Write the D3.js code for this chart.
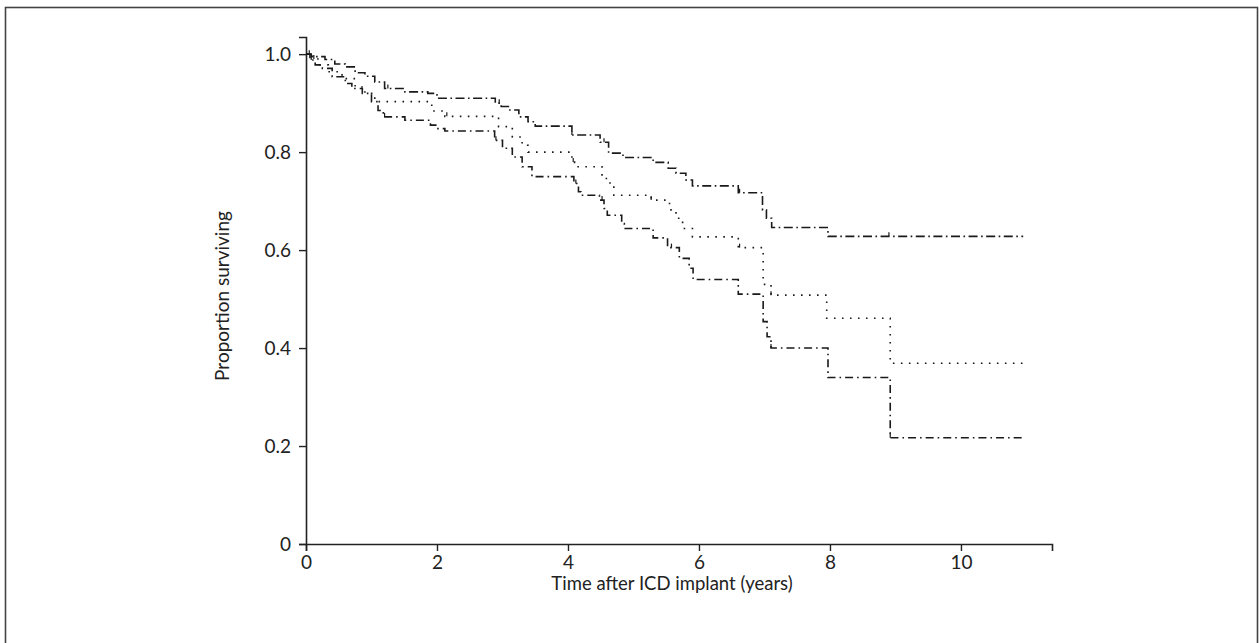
<!DOCTYPE html>
<html>
<head>
<meta charset="utf-8">
<script src="https://cdn.jsdelivr.net/npm/d3@7"></script>
<style>
  html, body { margin: 0; padding: 0; background: #fff; }
  svg { display: block; }
  text { font-family: Lato, "Open Sans", sans-serif; fill: #222; }
</style>
</head>
<body>
<svg id="chart" width="1259" height="643"></svg>
<script>
// Kaplan-Meier survival estimates after ICD implant (years)
const endTime = 10.95;

const upperTimes = [0, 0.08, 0.29, 0.44, 0.60, 0.75, 0.90, 1.05, 1.20, 1.51, 1.86, 2.00, 2.89, 2.98, 3.09, 3.25, 3.39, 3.50, 4.06, 4.49, 4.62, 4.84, 5.30, 5.53, 5.65, 5.80, 5.90, 6.60, 6.97, 7.03, 7.11, 7.97];
const upperValues = [1.000, 0.995, 0.989, 0.980, 0.974, 0.962, 0.955, 0.943, 0.930, 0.923, 0.920, 0.910, 0.900, 0.893, 0.886, 0.872, 0.862, 0.853, 0.835, 0.820, 0.798, 0.789, 0.779, 0.767, 0.757, 0.743, 0.731, 0.717, 0.682, 0.665, 0.646, 0.628];

const middleTimes = [0, 0.10, 0.20, 0.34, 0.55, 0.75, 0.90, 1.05, 1.92, 2.12, 2.94, 3.15, 3.30, 3.39, 4.06, 4.10, 4.52, 4.62, 4.70, 5.27, 5.55, 5.65, 5.75, 5.90, 6.60, 6.98, 7.10, 7.95, 8.92];
const middleValues = [1.000, 0.990, 0.978, 0.964, 0.950, 0.933, 0.920, 0.903, 0.884, 0.873, 0.852, 0.831, 0.814, 0.800, 0.780, 0.770, 0.746, 0.737, 0.712, 0.702, 0.682, 0.665, 0.644, 0.627, 0.605, 0.530, 0.508, 0.461, 0.369];

const lowerTimes = [0, 0.06, 0.14, 0.25, 0.40, 0.60, 0.70, 0.86, 1.00, 1.10, 1.18, 1.51, 1.90, 2.00, 2.12, 2.88, 3.00, 3.15, 3.30, 3.45, 4.09, 4.16, 4.20, 4.48, 4.55, 4.60, 4.82, 4.86, 5.30, 5.52, 5.70, 5.85, 5.91, 6.60, 6.98, 7.04, 7.10, 7.97, 8.92];
const lowerValues = [1.000, 0.988, 0.978, 0.971, 0.954, 0.940, 0.930, 0.920, 0.903, 0.885, 0.872, 0.865, 0.855, 0.848, 0.843, 0.824, 0.808, 0.790, 0.770, 0.750, 0.736, 0.719, 0.712, 0.702, 0.685, 0.671, 0.654, 0.644, 0.625, 0.605, 0.583, 0.563, 0.540, 0.510, 0.454, 0.423, 0.400, 0.340, 0.217];

// censored observations (tick marks on the curves)
const upperCensored = [0.05, 1.25, 2.95, 4.06, 4.55, 6.62, 8.90];
const middleCensored = [0.12, 2.15, 4.08, 5.27, 6.62, 7.10];
const lowerCensored = [0.08, 1.20, 2.90, 4.12, 4.52, 5.58, 7.10, 8.92];

const xTicks = [0, 2, 4, 6, 8, 10];
const yTicks = [0, 0.2, 0.4, 0.6, 0.8, 1.0];
const xTitle = "Time after ICD implant (years)";
const yTitle = "Proportion surviving";

const svg = d3.select("#chart");

// outer frame
svg.append("rect")
  .attr("x", 5.5).attr("y", 7.5)
  .attr("width", 1252).attr("height", 660)
  .attr("fill", "none").attr("stroke", "#444").attr("stroke-width", 1.6);

const x = d3.scaleLinear().domain([0, 11.39]).range([306, 1052]);
const y = d3.scaleLinear().domain([0, 1.035]).range([544, 37]);

// axes
const xAxis = svg.append("g")
  .attr("transform", `translate(0,${y(0)})`)
  .call(d3.axisBottom(x).tickValues(xTicks).tickSize(7).tickPadding(3).tickFormat(d3.format("d")));
const yAxis = svg.append("g")
  .attr("transform", `translate(${x(0)},0)`)
  .call(d3.axisLeft(y).tickValues(yTicks).tickSize(7).tickPadding(8)
    .tickFormat(d => d === 0 ? "0" : d3.format(".1f")(d)));

[xAxis, yAxis].forEach(g => {
  g.select(".domain").attr("stroke", "#222").attr("stroke-width", 1.6);
  g.selectAll(".tick line").attr("stroke", "#222").attr("stroke-width", 1.4);
  g.selectAll(".tick text").attr("font-size", 19).attr("fill", "#222")
    .style("font-family", "Lato, 'Open Sans', sans-serif");
});
xAxis.selectAll(".tick text").attr("dy", "0.8em");

svg.append("text")
  .attr("x", 672).attr("y", 590)
  .attr("text-anchor", "middle").attr("font-size", 18.5)
  .text(xTitle);

svg.append("text")
  .attr("transform", `translate(229,296) rotate(-90)`)
  .attr("text-anchor", "middle").attr("font-size", 19)
  .text(yTitle);

// survival curves
const series = [
  { times: upperTimes, values: upperValues, censored: upperCensored, dash: "9,3.5,1.6,3.5" },
  { times: middleTimes, values: middleValues, censored: middleCensored, dash: "1.6,6.4" },
  { times: lowerTimes, values: lowerValues, censored: lowerCensored, dash: "8,4,1.6,4" }
];

const line = d3.line()
  .x(d => x(d[0]))
  .y(d => y(d[1]))
  .curve(d3.curveStepAfter);

function valueAt(s, t) {
  let v = s.values[0];
  for (let i = 0; i < s.times.length; i++) if (s.times[i] <= t) v = s.values[i];
  return v;
}

series.forEach(s => {
  const pts = s.times.map((t, i) => [t, s.values[i]]);
  pts.push([endTime, s.values[s.values.length - 1]]);
  svg.append("path")
    .datum(pts)
    .attr("d", line)
    .attr("fill", "none")
    .attr("stroke", "#1a1a1a")
    .attr("stroke-width", 1.6)
    .attr("stroke-dasharray", s.dash);

  svg.selectAll(null)
    .data(s.censored)
    .enter().append("line")
    .attr("x1", d => x(d)).attr("x2", d => x(d))
    .attr("y1", d => y(valueAt(s, d)))
    .attr("y2", d => y(valueAt(s, d)) - 4)
    .attr("stroke", "#1a1a1a").attr("stroke-width", 1.2);
});
</script>
</body>
</html>
